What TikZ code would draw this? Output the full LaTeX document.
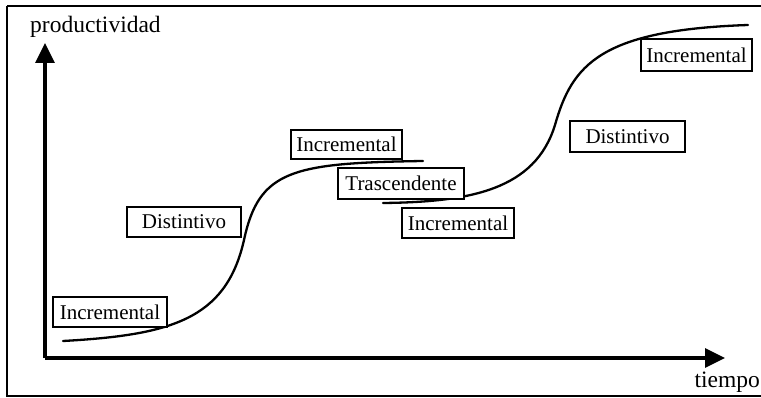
\documentclass[tikz,border=0pt]{standalone}
\usepackage{fontspec}
\setmainfont{Liberation Serif}
\usetikzlibrary{arrows.meta}
\begin{document}
\begin{tikzpicture}[x=1pt,y=-1pt,
  lbl/.style={draw, line width=1.9pt, fill=white, inner sep=0pt, font=\fontsize{21}{23}\selectfont},
  axis/.style={line width=3.4pt, -{Triangle[length=20pt,width=19pt]}},
  curve/.style={line width=2.3pt, line cap=round},
  axlbl/.style={inner sep=0pt, font=\fontsize{23.5}{25}\selectfont}]
\useasboundingbox (0,0) rectangle (761,398);
\draw[line width=1.4pt] (7,6) -- (770,6) (7,6) -- (7,396) -- (770,396);
% axes
\coordinate (O) at (45,358);
\coordinate (Ytop) at (45,43);
\coordinate (Xend) at (725,358);
\draw[axis] (O) -- (Ytop);
\draw[axis] (O) -- (Xend);
\node[axlbl, anchor=base west] (yl) at (30,33) {productividad};
\node[axlbl, anchor=base east] (xl) at (760,387) {tiempo};
% curves
\coordinate (c1a) at (63,341);
\coordinate (c1m) at (244,240);
\coordinate (c1b) at (423,161);
\draw[curve] (c1a) .. controls (170,335) and (226,320) .. (c1m)
             .. controls (259,170) and (292,163) .. (c1b);
\coordinate (c2a) at (383,203);
\coordinate (c2m) at (555,125);
\coordinate (c2b) at (748,25);
\draw[curve] (c2a) .. controls (470,202) and (535,190) .. (c2m)
             .. controls (572,65) and (600,30) .. (c2b);
% labels
\node[lbl, minimum width=114pt, minimum height=30pt] (inc1) at (110,312) {Incremental};
\node[lbl, minimum width=114pt, minimum height=30pt] (dist1) at (184,222) {Distintivo};
\node[lbl, minimum width=111pt, minimum height=29pt] (inc2) at (346.5,144.5) {Incremental};
\node[lbl, minimum width=126pt, minimum height=31pt] (tras) at (401,183.5) {Trascendente};
\node[lbl, minimum width=112pt, minimum height=30pt] (inc3) at (458,223) {Incremental};
\node[lbl, minimum width=115pt, minimum height=31pt] (dist2) at (627.5,136.5) {Distintivo};
\node[lbl, minimum width=111pt, minimum height=32pt] (inc4) at (696.5,55) {Incremental};
\end{tikzpicture}
\end{document}
